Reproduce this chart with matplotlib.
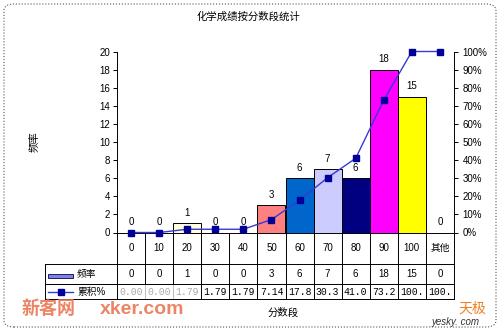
import matplotlib
matplotlib.use("Agg")
from matplotlib import pyplot as plt
from matplotlib.patches import FancyBboxPatch, Rectangle
from matplotlib.lines import Line2D
import numpy as np

plt.rcParams['font.family'] = ['Liberation Sans', 'Noto Sans CJK SC']

# data
categories = ['0', '10', '20', '30', '40', '50', '60', '70', '80', '90', '100', '其他']
freq = [0, 0, 1, 0, 0, 3, 6, 7, 6, 18, 15, 0]
cum_pct = [0.00, 0.00, 1.79, 1.79, 1.79, 7.14, 17.8, 30.3, 41.0, 73.2, 100.0, 100.0]
cum_labels = ['0.00', '0.00', '1.79', '1.79', '1.79', '7.14', '17.8', '30.3', '41.0', '73.2', '100.', '100.']
bar_colors = ['white', 'white', '#FFFFE0', 'white', 'white', '#FF8080', '#0066CC',
              '#CCCCFF', '#000080', '#FF00FF', '#FFFF00', 'white']

fig = plt.figure(figsize=(5, 3.31), dpi=100)
W, H = 500, 331

def fx(px):
    return px / W

def fy(py):
    return 1 - py / H

# outer dotted frame
frame = FancyBboxPatch((fx(4), fy(327)), fx(492), 323 / H,
                       boxstyle="round,pad=0,rounding_size=0.02",
                       transform=fig.transFigure, fill=False,
                       ec='#555555', lw=0.8, ls=':')
fig.patches.append(frame)

ax = fig.add_axes([fx(117), fy(232.5), fx(337), 181 / H])
x = np.arange(len(categories))
ax.bar(x, freq, width=1.0, color=bar_colors, edgecolor='black', linewidth=0.7, zorder=2)
for xi, v in zip(x, freq):
    ax.annotate(str(v), (xi, v), xytext=(0, 4), textcoords='offset points',
                ha='center', va='bottom', fontsize=7)

ax.set_xlim(-0.5, len(categories) - 0.5)
ax.set_ylim(0, 20)
ax.set_yticks(np.arange(0, 21, 2))
ax.set_xticks([])
ax.tick_params(axis='y', labelsize=7, length=3, width=0.7, direction='out', pad=2)
for s in ['top', 'right']:
    ax.spines[s].set_visible(False)
ax.spines['left'].set_linewidth(0.7)
ax.spines['bottom'].set_linewidth(0.7)

ax2 = ax.twinx()
ax2.plot(x, cum_pct, color='#3838D8', lw=1.0, marker='s', ms=4.5,
         mfc='#000099', mec='#000099', zorder=3, clip_on=False)
ax2.set_ylim(0, 100)
ax2.set_yticks(np.arange(0, 101, 10))
ax2.set_yticklabels([f'{t}%' for t in range(0, 101, 10)])
ax2.tick_params(axis='y', labelsize=7, length=3, width=0.7, direction='out', pad=3)
for s in ['top', 'left', 'bottom']:
    ax2.spines[s].set_visible(False)
ax2.spines['right'].set_linewidth(0.7)

# data table under the plot
tr = ax.get_xaxis_transform()
row_lines = [0.0, -0.174, -0.2845, -0.367]
for k in range(len(categories) + 1):
    c = '#BBBBBB' if k in (1, 2) else 'black'
    ax.plot([k - 0.5, k - 0.5], [row_lines[2], row_lines[-1]], transform=tr, color=c,
            lw=0.7, clip_on=False)
    ax.plot([k - 0.5, k - 0.5], [0, row_lines[2]], transform=tr, color='black',
            lw=0.7, clip_on=False)
for yl in row_lines[1:]:
    ax.plot([-0.5, len(categories) - 0.5], [yl, yl], transform=tr, color='black',
            lw=0.7, clip_on=False)
for xi, c, f, cl in zip(x, categories, freq, cum_labels):
    ax.text(xi, -0.087, c, transform=tr, ha='center', va='center', fontsize=7)
    ax.text(xi, -0.232, str(f), transform=tr, ha='center', va='center', fontsize=7)
    col = '#AAAAAA' if xi < 3 else 'black'
    ax.text(xi, -0.327, cl, transform=tr, ha='center', va='center', fontsize=7,
            family='Liberation Mono', color=col)

# legend keys at the left of the table
for y0, y1 in [(264, 284), (284, 299)]:
    fig.add_artist(Line2D([fx(45), fx(117)], [fy(y0), fy(y0)], color='black', lw=0.7))
    fig.add_artist(Line2D([fx(45), fx(117)], [fy(y1), fy(y1)], color='black', lw=0.7))
    fig.add_artist(Line2D([fx(45), fx(45)], [fy(y0), fy(y1)], color='black', lw=0.7))
fig.add_artist(Rectangle((fx(48), fy(278)), fx(25), 4 / H, transform=fig.transFigure,
                         fc='#8080E8', ec='#202060', lw=0.7))
fig.text(fx(77), fy(274), '频率', fontsize=7, va='center')
fig.add_artist(Line2D([fx(48), fx(73)], [fy(292), fy(292)], color='#3838D8', lw=1.0))
fig.add_artist(Line2D([fx(60.5)], [fy(292)], marker='s', ms=4, mfc='#000099',
                      mec='#000099', ls='none'))
fig.text(fx(77), fy(292), '累积%', fontsize=7, va='center')

# titles
fig.text(fx(248), fy(17), '化学成绩按分数段统计', fontsize=7.5, ha='center', va='center')
fig.text(fx(35), fy(142), '频率', fontsize=7.5, ha='center', va='center', rotation=90)
fig.text(fx(283), fy(313), '分数段', fontsize=7.5, ha='center', va='center')

# watermarks
fig.text(fx(22), fy(309), '新客网', fontsize=13, fontweight='bold', color='#E8704A',
         alpha=0.85, va='center')
fig.text(fx(100), fy(309), 'xker.com', fontsize=14, fontweight='bold', color='#E8704A',
         alpha=0.85, va='center')
fig.text(fx(458), fy(309), '天极', fontsize=10, color='#F08020', va='center')
fig.text(fx(432), fy(322), 'yesky. com', fontsize=7, fontstyle='italic', color='#333333',
         va='center')

fig.savefig('out.png', dpi=100)
